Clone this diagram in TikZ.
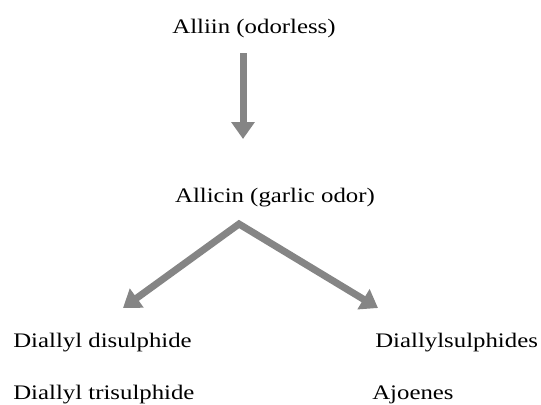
\documentclass[tikz,border=0pt]{standalone}
\usepackage{fontspec}
\setmainfont{Liberation Serif}
\usetikzlibrary{arrows.meta}

\tikzset{
  chemtext/.style={inner sep=0pt, font=\fontsize{15.5}{18}\selectfont, xscale=1.2, yscale=-1, transform shape},
  grayarrow/.style={color={rgb, 255:red, 133; green, 133; blue, 133 }, line width=5.25pt, line join=miter,
    -{Triangle[width=17pt,length=12.75pt]}}
}

\begin{document}
\begin{tikzpicture}[x=0.75pt,y=0.75pt,yscale=-1,xscale=1]
\useasboundingbox (0,0) rectangle (541,404);

% Text Node
\node [chemtext, anchor=base] (alliin) at (254,33) {Alliin (odorless)};
% Text Node
\node [chemtext, anchor=base] (allicin) at (275,202) {Allicin (garlic odor)};
% Text Node
\node [chemtext, anchor=base west] (disul) at (13,347) {Diallyl disulphide};
% Text Node
\node [chemtext, anchor=base west] (trisul) at (13,399) {Diallyl trisulphide};
% Text Node
\node [chemtext, anchor=base west] (sulph) at (375,347) {Diallylsulphides};
% Text Node
\node [chemtext, anchor=base west] (ajoene) at (372,399) {Ajoenes};

% arrow ends
\coordinate (stemTop) at (243,53);
\coordinate (stemTip) at (243,139);
\coordinate (fork) at (239,224);
\coordinate (leftTip) at (123,308);
\coordinate (rightTip) at (378,308);

%Straight Lines: Alliin to Allicin
\draw [grayarrow] (stemTop) -- (stemTip);
%Straight Lines: Allicin to products
\draw [grayarrow, {Triangle[width=17pt,length=12.75pt]}-{Triangle[width=17pt,length=12.75pt]}] (leftTip) -- (fork) -- (rightTip);

\end{tikzpicture}
\end{document}
